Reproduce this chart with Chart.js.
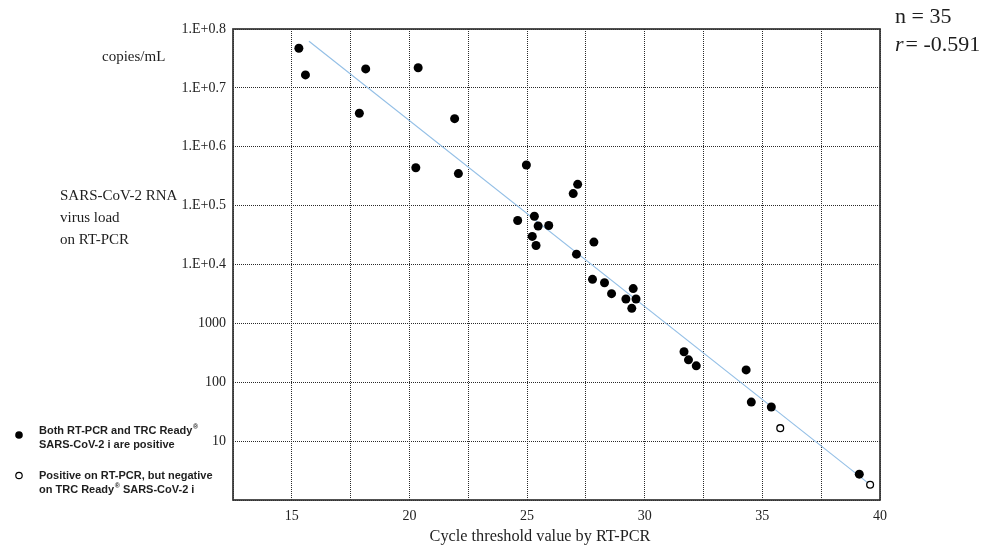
<!DOCTYPE html>
<html>
<head>
<meta charset="utf-8">
<script src="https://cdn.jsdelivr.net/npm/chart.js@4.4.0/dist/chart.umd.min.js"></script>
<style>
  html, body { margin: 0; padding: 0; background: #fff; }
</style>
</head>
<body>
<canvas id="ct-chart" width="987" height="546"></canvas>
<script>
// Both RT-PCR and TRC Ready positive
const bothCt = [15.3, 15.58, 18.14, 20.37, 17.87, 21.92, 20.27, 22.08, 24.97, 27.15, 26.96,
    24.6, 25.31, 25.47, 25.92, 25.22, 25.38, 27.84, 27.1, 27.78, 28.29, 28.59, 29.51,
    29.2, 29.63, 29.45, 31.67, 31.86, 32.19, 34.31, 34.53, 35.38, 39.12];
const bothLoad = [4.7e7, 1.66e7, 2.1e7, 2.2e7, 3.7e6, 3.0e6, 4.4e5, 3.5e5, 4.9e5, 2.3e5, 1.6e5,
    5.6e4, 6.6e4, 4.5e4, 4.6e4, 3.0e4, 2.1e4, 2.4e4, 1.5e4, 5600, 4900, 3200, 3900,
    2600, 2600, 1800, 330, 240, 190, 162, 46, 38, 2.75];

// Positive on RT-PCR, negative on TRC Ready
const negCt = [35.76, 39.58];
const negLoad = [16.6, 1.82];

// regression line end points
const fitCt = [15.73, 39.58];
const fitLoad = [6.2e7, 1.82];

const yTickValues = [1, 10, 100, 1000, 1e4, 1e5, 1e6, 1e7, 1e8];
const yTickLabels = ['', '10', '100', '1000', '1.E+0.4', '1.E+0.5', '1.E+0.6', '1.E+0.7', '1.E+0.8'];
const xTickLabels = ['15', '20', '25', '30', '35', '40'];

const toPoints = (xs, ys) => xs.map((x, i) => ({ x: x, y: ys[i] }));

const serif = '"Liberation Serif", "Times New Roman", serif';
const sans = '"Liberation Sans", Arial, sans-serif';

// frame, side titles, stats and legend box
const decorations = {
    id: 'decorations',
    afterDraw(chart) {
        const ctx = chart.ctx;
        const area = chart.chartArea;
        ctx.save();

        ctx.strokeStyle = '#333';
        ctx.lineWidth = 1.7;
        ctx.strokeRect(area.left, area.top, area.right - area.left, area.bottom - area.top);

        ctx.fillStyle = '#1e1e1e';
        ctx.textBaseline = 'middle';
        ctx.textAlign = 'left';
        ctx.font = '15px ' + serif;
        ctx.fillText('copies/mL', 102, 57);
        ctx.fillText('SARS-CoV-2 RNA', 60, 196);
        ctx.fillText('virus load', 60, 218);
        ctx.fillText('on RT-PCR', 60, 240);

        ctx.textAlign = 'center';
        ctx.font = '16.3px ' + serif;
        ctx.fillText('Cycle threshold value by RT-PCR', 540, 537);

        // n and r
        ctx.textAlign = 'left';
        ctx.font = '22px ' + serif;
        ctx.fillText('n = 35', 895, 17);
        ctx.font = 'italic 22px ' + serif;
        ctx.fillText('r', 895, 45);
        const rw = ctx.measureText('r').width;
        ctx.font = '22px ' + serif;
        ctx.fillText('= -0.591', 895 + rw + 2, 45);

        // legend
        const sup = (text, x, y) => {
            ctx.font = 'bold 11px ' + sans;
            ctx.fillText(text, x, y);
            const w = ctx.measureText(text).width;
            ctx.font = 'bold 7px ' + sans;
            ctx.fillText('\u00AE', x + w + 0.5, y - 4);
            return x + w + 0.5 + ctx.measureText('\u00AE').width;
        };
        sup('Both RT-PCR and TRC Ready', 39, 431);
        ctx.font = 'bold 11px ' + sans;
        ctx.fillText('SARS-CoV-2 i are positive', 39, 445);
        ctx.fillText('Positive on RT-PCR, but negative', 39, 476);
        const nx = sup('on TRC Ready', 39, 490);
        ctx.font = 'bold 11px ' + sans;
        ctx.fillText(' SARS-CoV-2 i', nx, 490);

        ctx.fillStyle = '#000';
        ctx.beginPath();
        ctx.arc(19, 435, 3.8, 0, Math.PI * 2);
        ctx.fill();
        ctx.fillStyle = '#fff';
        ctx.strokeStyle = '#000';
        ctx.lineWidth = 1.2;
        ctx.beginPath();
        ctx.arc(19, 475.5, 3.2, 0, Math.PI * 2);
        ctx.fill();
        ctx.stroke();

        ctx.restore();
    }
};

new Chart(document.getElementById('ct-chart'), {
    type: 'scatter',
    data: {
        datasets: [
            {
                type: 'line',
                label: 'fit',
                data: toPoints(fitCt, fitLoad),
                borderColor: '#93bfe6',
                borderWidth: 1.1,
                pointRadius: 0,
                fill: false,
                order: 3
            },
            {
                label: 'Both RT-PCR and TRC Ready SARS-CoV-2 i are positive',
                data: toPoints(bothCt, bothLoad),
                backgroundColor: '#000',
                borderWidth: 0,
                pointRadius: 4.5,
                order: 1
            },
            {
                label: 'Positive on RT-PCR, but negative on TRC Ready SARS-CoV-2 i',
                data: toPoints(negCt, negLoad),
                backgroundColor: '#fff',
                borderColor: '#000',
                borderWidth: 1.3,
                pointRadius: 3.4,
                order: 2
            }
        ]
    },
    options: {
        responsive: false,
        animation: false,
        devicePixelRatio: 1,
        layout: { padding: { top: 29, right: 107, left: 0, bottom: 0 } },
        plugins: {
            legend: { display: false },
            tooltip: { enabled: false }
        },
        scales: {
            x: {
                type: 'linear',
                min: 12.5,
                max: 40,
                afterFit: (scale) => { scale.height = 46; },
                grid: { color: '#2a2a2a', lineWidth: 1, drawTicks: false },
                border: { display: false, dash: [1, 1] },
                ticks: {
                    stepSize: 2.5,
                    autoSkip: false,
                    maxRotation: 0,
                    padding: 8,
                    color: '#222',
                    font: { family: serif, size: 14 },
                    callback: (v) => (v % 5 === 0 ? xTickLabels[(v - 15) / 5] : '')
                }
            },
            y: {
                type: 'logarithmic',
                min: 1,
                max: 1e8,
                afterFit: (scale) => { scale.width = 233; },
                afterBuildTicks: (scale) => { scale.ticks = yTickValues.map(v => ({ value: v })); },
                grid: { color: '#2a2a2a', lineWidth: 1, drawTicks: false },
                border: { display: false, dash: [1, 1] },
                ticks: {
                    padding: 7,
                    color: '#222',
                    font: { family: serif, size: 14 },
                    callback: (v, i) => yTickLabels[i]
                }
            }
        }
    },
    plugins: [decorations]
});
</script>
</body>
</html>
